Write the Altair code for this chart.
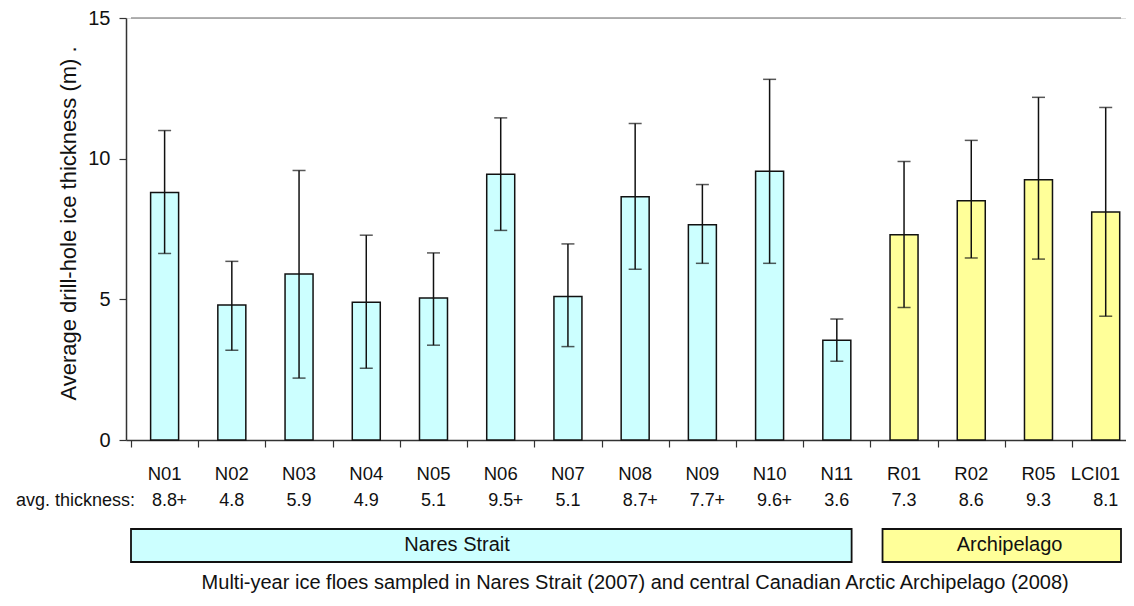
import altair as alt
import pandas as pd

# ---- data ----
names = ["N01", "N02", "N03", "N04", "N05", "N06", "N07", "N08", "N09", "N10",
         "N11", "R01", "R02", "R05", "LCI01"]
means = [8.8, 4.8, 5.9, 4.9, 5.05, 9.45, 5.1, 8.65, 7.65, 9.55, 3.55, 7.3, 8.5, 9.25, 8.1]
err_hi = [11.0, 6.35, 9.58, 7.28, 6.65, 11.45, 6.97, 11.25, 9.08, 12.82, 4.3, 9.9, 10.65, 12.18, 11.82]
err_lo = [6.63, 3.19, 2.2, 2.55, 3.37, 7.45, 3.32, 6.07, 6.28, 6.28, 2.8, 4.71, 6.47, 6.43, 4.4]
avg_num = ["8.8", "4.8", "5.9", "4.9", "5.1", "9.5", "5.1", "8.7", "7.7", "9.6",
           "3.6", "7.3", "8.6", "9.3", "8.1"]
avg_plus = ["+", "", "", "", "", "+", "", "+", "+", "+", "", "", "", "", ""]
region = ["Nares Strait"] * 11 + ["Archipelago"] * 4

groups = ["Nares Strait", "Archipelago"]

# ---- layout ----
W, H = 1000, 422
X_MAX = W / 67.9
FONT = "Liberation Sans"
COLORS = alt.Scale(domain=groups, range=["#CCFFFF", "#FFFF99"])

df = pd.DataFrame({
    "name": names, "mean": means, "hi": err_hi, "lo": err_lo,
    "num": avg_num, "plus": avg_plus, "region": region,
})
df["pos"] = [i + 0.5 for i in range(len(names))]

gdf = pd.DataFrame({
    "region": groups,
    "start": [0.0, 11.18],
    "end": [10.72, X_MAX],
    "lab": [4.85, 13.07],
})

xs = alt.Scale(domain=[0, X_MAX], nice=False, zero=False)
ys = alt.Scale(domain=[0, 15], nice=False)

base = alt.Chart(df)

xaxis = alt.Axis(values=list(range(0, 15)), labels=False, ticks=True, tickSize=7,
                 tickColor="#333", tickWidth=1.2, domainColor="#333", domainWidth=1.5,
                 grid=False, title=None)
yaxis = alt.Axis(values=[0, 5, 10, 15], tickSize=7, tickColor="#333", tickWidth=1.2,
                 domainColor="#333", domainWidth=1.5, grid=False,
                 labelFont=FONT, labelFontSize=20, labelColor="#111", labelPadding=9,
                 title="Average drill-hole ice thickness (m)  .",
                 titleFont=FONT, titleFontSize=22, titleFontWeight="normal",
                 titleColor="#111", titleX=-58, titleY=205, titleAngle=-90,
                 titleBaseline="middle", titleAlign="center")

bars = base.mark_bar(size=28, orient="vertical", stroke="#111", strokeWidth=1.5).encode(
    x=alt.X("pos:Q", scale=xs, axis=xaxis),
    y=alt.Y("mean:Q", scale=ys, axis=yaxis),
    fill=alt.Fill("region:N", scale=COLORS, legend=None),
)

top_line = alt.Chart(pd.DataFrame({"v": [15], "a": [0], "b": [X_MAX]})).mark_rule(
    color="#999", strokeWidth=1.5).encode(
    y=alt.Y("v:Q", scale=ys), x=alt.X("a:Q", scale=xs), x2="b:Q")

err = base.mark_rule(color="#111", strokeWidth=1.5).encode(
    x=alt.X("pos:Q", scale=xs), y=alt.Y("lo:Q", scale=ys), y2="hi:Q")
cap_hi = base.mark_tick(orient="horizontal", size=13, thickness=1.5, color="#111").encode(
    x=alt.X("pos:Q", scale=xs), y=alt.Y("hi:Q", scale=ys))
cap_lo = base.mark_tick(orient="horizontal", size=13, thickness=1.5, color="#111").encode(
    x=alt.X("pos:Q", scale=xs), y=alt.Y("lo:Q", scale=ys))

# keep the last category label inside the drawing
cat_lab = base.transform_calculate(
    lx=f"min(datum.pos, {X_MAX - 0.38})"
).mark_text(font=FONT, fontSize=18.5, color="#111", baseline="middle",
            align="center").encode(
    x=alt.X("lx:Q", scale=xs), y=alt.value(456), text="name:N")
num_lab = base.mark_text(font=FONT, fontSize=18, color="#111", baseline="middle",
                         align="center").encode(
    x=alt.X("pos:Q", scale=xs), y=alt.value(483), text="num:N")
plus_lab = base.mark_text(font=FONT, fontSize=18, color="#111", baseline="middle",
                          align="left", dx=12).encode(
    x=alt.X("pos:Q", scale=xs), y=alt.value(483), text="plus:N")
avg_title = alt.Chart(pd.DataFrame({"t": ["avg. thickness:"], "x": [0]})).mark_text(
    font=FONT, fontSize=18, color="#111", baseline="middle", align="right", dx=4).encode(
    x=alt.X("x:Q", scale=xs), y=alt.value(483), text="t:N")

grect = alt.Chart(gdf).mark_rect(stroke="#111", strokeWidth=1.8).encode(
    x=alt.X("start:Q", scale=xs), x2="end:Q",
    y=alt.value(511), y2=alt.value(544),
    fill=alt.Fill("region:N", scale=COLORS, legend=None),
)
gtext = alt.Chart(gdf).mark_text(font=FONT, fontSize=20, color="#111",
                                 baseline="middle", align="center").encode(
    x=alt.X("lab:Q", scale=xs), y=alt.value(527), text="region:N")

caption = alt.Chart(pd.DataFrame({
    "t": ["Multi-year ice floes sampled in Nares Strait (2007) and central Canadian Arctic Archipelago (2008)"],
    "x": [7.5]})).mark_text(font=FONT, fontSize=20, color="#111", baseline="middle",
                            align="center").encode(
    x=alt.X("x:Q", scale=xs), y=alt.value(565), text="t:N")

chart = alt.layer(
    top_line, bars, err, cap_hi, cap_lo, cat_lab, num_lab, plus_lab, avg_title,
    grect, gtext, caption
).properties(
    width=W, height=H,
    autosize=alt.AutoSizeParams(type="none"),
    padding={"left": 118, "top": 10, "right": 0, "bottom": 156},
).configure_view(stroke=None).configure(background="white")

chart.save("out.html", embed_options={"renderer": "svg", "actions": False})
